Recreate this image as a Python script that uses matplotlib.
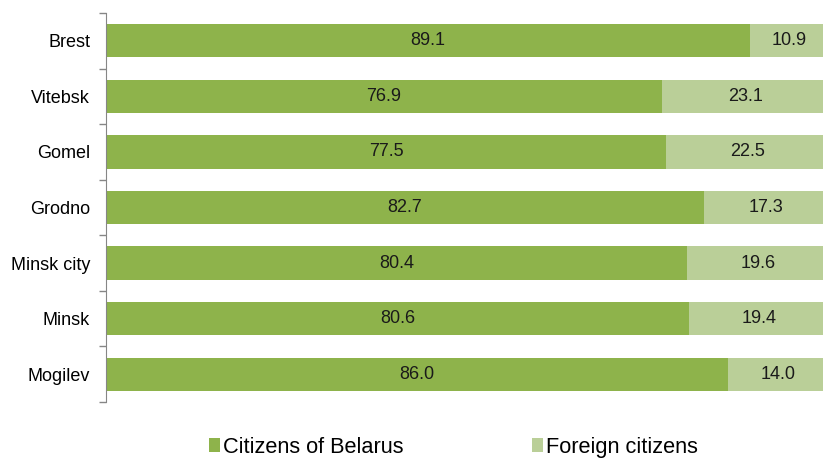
import matplotlib.pyplot as plt
import numpy as np

plt.rcParams['font.family'] = ['Liberation Sans', 'DejaVu Sans']

regions = ['Brest', 'Vitebsk', 'Gomel', 'Grodno', 'Minsk city', 'Minsk', 'Mogilev']
citizens = [89.1, 76.9, 77.5, 82.7, 80.4, 80.6, 86.0]
foreign = [10.9, 23.1, 22.5, 17.3, 19.6, 19.4, 14.0]
series_names = ['Citizens of Belarus', 'Foreign citizens']

dark = '#8EB34B'
light = '#BACF98'

fig = plt.figure(figsize=(8.23, 4.59), dpi=100)
ax = fig.add_axes([0.1288, 0.1242, 0.8785, 0.8475])

y = np.arange(len(regions))
b1 = ax.barh(y, citizens, height=0.6, color=dark, label=series_names[0])
b2 = ax.barh(y, foreign, left=citizens, height=0.6, color=light, label=series_names[1])

for bars, vals in ((b1, citizens), (b2, foreign)):
    ax.bar_label(bars, labels=['%.1f' % v for v in vals], label_type='center',
                 fontsize=13, color='#1a1a1a')

ax.set_xlim(0, 100)
ax.set_ylim(len(regions) - 0.5, -0.5)
ax.set_yticks(y)
ax.set_yticklabels(regions, fontsize=13)
ax.set_yticks(np.arange(len(regions) + 1) - 0.5, minor=True)
ax.tick_params(axis='y', which='major', length=0, pad=11.5)
ax.tick_params(axis='y', which='minor', length=5, width=1, color='#868686', direction='out')
ax.set_xticks([])
for s in ['top', 'right', 'bottom']:
    ax.spines[s].set_visible(False)
ax.spines['left'].set_color('#868686')

fig.legend(handles=[b1, b2], labels=series_names, loc='center', ncol=2,
           bbox_to_anchor=(0.551, 0.026), frameon=False, fontsize=15.7,
           handlelength=0.5, handleheight=0.65, handletextpad=0.15, columnspacing=5.9)

fig.savefig('out.png', dpi=100)
